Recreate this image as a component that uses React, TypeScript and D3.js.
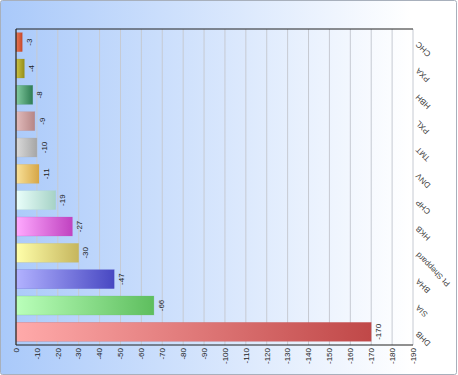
import React from "react";
import * as d3 from "d3";

const categories = ["CHC", "PXA", "HBH", "PXL", "TMT", "DNV", "CHP", "HKB", "Pt Sheppard", "BHA", "SIA", "DHB"];
const values = [-3, -4, -8, -9, -10, -11, -19, -27, -30, -47, -66, -170];
const lightColors = ["#e87858", "#cdc548", "#84cca2", "#e2bcbc", "#dadada", "#f9e29a", "#eafffb", "#ffaaff", "#ffffaa", "#b2b2ff", "#baffba", "#ffaaaa"];
const darkColors = ["#c84a2a", "#968e18", "#2f7c52", "#b68686", "#a6a6a6", "#d6a646", "#a6d2c6", "#c042c0", "#c6b65e", "#4848c2", "#5ebe5e", "#c04848"];
const tickValues = [0, -10, -20, -30, -40, -50, -60, -70, -80, -90, -100, -110, -120, -130, -140, -150, -160, -170, -180, -190];

const W = 458;
const H = 375;
const left = 16;
const right = 413;
const top = 29;
const bottom = 345;

export default function App() {
  const x = d3.scaleLinear().domain([0, -190]).range([left, right]);
  const y = d3.scaleBand<string>().domain(categories).range([top, bottom]).paddingInner(0.28).paddingOuter(0.14);
  const font = "'Liberation Sans', Arial, sans-serif";

  return (
    <svg width={W} height={H} style={{ position: "absolute", left: 0, top: 0 }}>
      <defs>
        <linearGradient id="bg" x1="0" y1="0" x2="1" y2="0">
          <stop offset="0" stopColor="#a9c9fa" />
          <stop offset="0.9" stopColor="#ffffff" />
          <stop offset="1" stopColor="#ffffff" />
        </linearGradient>
        {categories.map((c, i) => (
          <linearGradient key={c} id={`g${i}`} x1="0" y1="0" x2="1" y2="0">
            <stop offset="0" stopColor={lightColors[i]} />
            <stop offset="1" stopColor={darkColors[i]} />
          </linearGradient>
        ))}
      </defs>
      <rect x={0.5} y={0.5} width={W - 2} height={H - 1} fill="url(#bg)" stroke="#a8b0bc" rx={2} />
      {tickValues.map((t) => (
        <line key={`gl${t}`} x1={x(t)} x2={x(t)} y1={top} y2={bottom} stroke="#c6cad2" strokeWidth={1} />
      ))}
      {categories.map((c, i) => {
        const x0 = x(0);
        const x1 = x(values[i]);
        const yy = y(c)!;
        return (
          <g key={c}>
            <rect x={x0} y={yy} width={x1 - x0} height={y.bandwidth()} fill={`url(#g${i})`} stroke={darkColors[i]} strokeOpacity={0.35} strokeWidth={0.6} />
            <text
              transform={`translate(${x1 + 4},${yy + y.bandwidth() / 2}) rotate(-90)`}
              textAnchor="middle"
              dy="0.72em"
              fontSize={8}
              fontFamily={font}
              fill="#222"
            >
              {values[i]}
            </text>
            <text
              transform={`translate(${right + 6},${yy + y.bandwidth() / 2 - 1}) rotate(-135)`}
              textAnchor="end"
              fontSize={8}
              fontFamily={font}
              fill="#444"
            >
              {c}
            </text>
          </g>
        );
      })}
      <line x1={left} x2={right} y1={top} y2={top} stroke="#222" strokeWidth={1} />
      <line x1={left} x2={right} y1={bottom} y2={bottom} stroke="#222" strokeWidth={1.2} />
      <line x1={left} x2={left} y1={top} y2={bottom} stroke="#222" strokeWidth={1.2} />
      {tickValues.map((t) => (
        <text
          key={`tl${t}`}
          transform={`translate(${x(t)},${bottom + 3}) rotate(-90)`}
          textAnchor="end"
          dy="0.35em"
          fontSize={8}
          fontFamily={font}
          fill="#222"
        >
          {t}
        </text>
      ))}
    </svg>
  );
}
